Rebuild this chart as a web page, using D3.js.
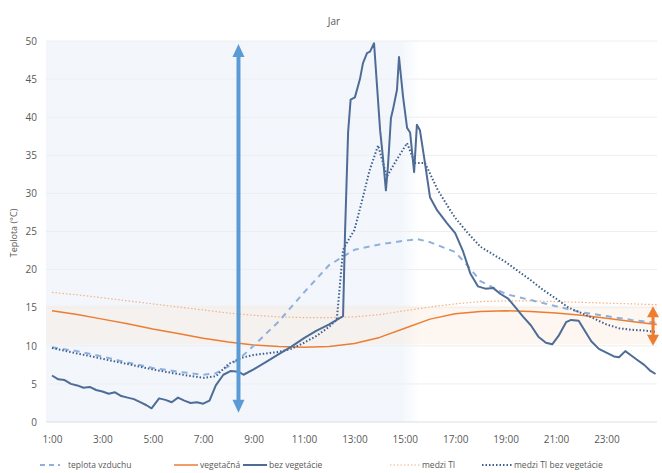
<!DOCTYPE html>
<html>
<head>
<meta charset="utf-8">
<script src="https://cdn.jsdelivr.net/npm/d3@7"></script>
<style>
  body { margin: 0; background: #fff; }
  text { font-family: "Open Sans", sans-serif; fill: #595959; }
</style>
</head>
<body>
<div id="chart"></div>
<script>
// Data (hours as decimals, 25 = 1:00 next day)
var xTicks = [1, 3, 5, 7, 9, 11, 13, 15, 17, 19, 21, 23];
var yTicks = [0, 5, 10, 15, 20, 25, 30, 35, 40, 45, 50];

var airTimes = [1,2,3,4,5,6,7,7.5,8,8.5,9,10,11,12,13,14,15,15.5,16,17,17.5,18,19,20,21,22,23,24,25];
var airVals  = [9.8,9.3,8.6,7.8,7.1,6.6,6.2,6.4,7.3,8.5,10,13.2,17,20.6,22.6,23.3,23.8,24,23.6,22.3,20.5,18.5,16.8,16,15.2,14.4,13.9,13.4,13];

var vegTimes = [1,2,3,4,5,6,7,8,9,10,11,12,13,14,15,16,17,18,19,20,21,22,23,24,25];
var vegVals  = [14.6,14.1,13.5,12.9,12.2,11.6,11,10.5,10.1,9.9,9.8,9.9,10.3,11.1,12.3,13.5,14.2,14.5,14.6,14.5,14.3,14,13.6,13.2,12.8];

var bareTimes = [1,1.25,1.5,1.75,2,2.25,2.5,2.75,3,3.25,3.5,3.75,4,4.25,4.5,4.75,4.95,5.25,5.5,5.75,6,6.25,6.5,6.75,7,7.25,7.5,7.8,8.1,8.4,8.6,9,9.5,10,10.5,11,11.5,12,12.3,12.55,12.63,12.75,12.85,13.02,13.22,13.34,13.5,13.62,13.78,13.9,14.02,14.13,14.25,14.33,14.45,14.53,14.69,14.77,14.93,15.09,15.21,15.37,15.48,15.6,15.8,16,16.28,16.67,17,17.3,17.6,17.9,18.2,18.5,18.8,19.1,19.4,19.7,20,20.3,20.6,20.85,21.1,21.4,21.6,21.9,22.1,22.4,22.7,23,23.3,23.5,23.75,24,24.2,24.5,24.75,24.95];
var bareVals  = [6.1,5.6,5.5,5.0,4.8,4.5,4.6,4.2,4.0,3.7,3.9,3.4,3.2,3.0,2.6,2.2,1.8,3.1,2.9,2.6,3.2,2.8,2.5,2.6,2.4,2.8,4.8,6.2,6.7,6.6,6.2,6.9,7.9,8.9,9.9,11.0,12.0,12.8,13.4,13.9,25,38,42.3,42.6,45,47.1,48.4,48.6,49.7,44,38.3,34.8,30.4,33.5,39.9,41,43.6,47.9,42.7,38.6,38,32.8,39,38.3,34,29.5,27.8,26.1,24.8,22.5,19.5,17.8,17.5,17.6,16.8,16.2,15,13.8,12.7,11.2,10.4,10.2,11.3,13.1,13.4,13.3,12.2,10.6,9.6,9.1,8.6,8.5,9.3,8.7,8.2,7.5,6.7,6.3];

var tiTimes = [1,2,3,4,5,6,7,8,9,10,11,12,13,14,15,16,17,18,19,20,21,22,23,24,25];
var tiVals  = [17,16.7,16.3,15.9,15.5,15.1,14.7,14.3,14,13.8,13.7,13.7,13.8,14.1,14.6,15.1,15.5,15.8,15.9,15.9,15.8,15.7,15.6,15.5,15.4];

var tiBareTimes = [1,2,3,4,5,6,7,7.5,8,8.5,9,10,10.5,11,11.5,12,12.3,12.55,12.75,13,13.3,13.6,13.94,14.29,14.6,15.09,15.4,15.8,16.3,16.8,17,17.5,18,18.5,19,19.5,20,20.5,21,21.5,22,22.5,23,23.5,24,24.5,25];
var tiBareVals  = [9.7,9.0,8.3,7.6,6.9,6.3,5.8,6.0,7.6,8.4,8.8,9.2,9.6,10.4,11.3,12.5,13.4,22.6,23.8,25.2,29,33,36.3,32.2,34,36.6,34,34,30.5,27.8,26.8,24.8,23,22,21,19.8,18.6,17.3,16.2,15,14.3,13.6,12.8,12.3,12.1,12,11.8];

var legendNames = ["teplota vzduchu", "vegetačná", "bez vegetácie", "medzi TI", "medzi TI bez vegetácie"];

// Layout
var W = 662, H = 473;
var pLeft = 46, pRight = 657, pTop = 41, pBottom = 422;

var svg = d3.select("#chart").append("svg")
    .attr("width", W)
    .attr("height", H);

var x = d3.scaleLinear().domain([1, 25]).range([52, 656.8]);
var y = d3.scaleLinear().domain([0, 50]).range([pBottom, pTop]);

var defs = svg.append("defs");
var grad = defs.append("linearGradient").attr("id", "shade")
    .attr("x1", "0").attr("x2", "1").attr("y1", "0").attr("y2", "0");
grad.append("stop").attr("offset", "0%").attr("stop-color", "#eaf1fa").attr("stop-opacity", 0.6);
grad.append("stop").attr("offset", "95%").attr("stop-color", "#eaf1fa").attr("stop-opacity", 0.6);
grad.append("stop").attr("offset", "100%").attr("stop-color", "#eaf1fa").attr("stop-opacity", 0);

// light blue shaded region
svg.append("rect")
    .attr("x", pLeft).attr("y", pTop)
    .attr("width", x(15.6) - pLeft).attr("height", pBottom - pTop)
    .attr("fill", "url(#shade)");

// peach band
svg.append("rect")
    .attr("x", pLeft).attr("y", y(15.3))
    .attr("width", pRight - pLeft).attr("height", y(10.2) - y(15.3))
    .attr("fill", "#fbe3d1").attr("opacity", 0.3);

// gridlines
svg.append("g")
    .selectAll("line")
    .data(yTicks)
    .join("line")
    .attr("x1", pLeft).attr("x2", pRight)
    .attr("y1", d => y(d)).attr("y2", d => y(d))
    .attr("stroke", d => d === 0 ? "#dedede" : "#eeeeee")
    .attr("stroke-width", 1);

// y axis labels
var yAxis = d3.axisLeft(y).tickValues(yTicks).tickSize(0).tickPadding(8);
svg.append("g")
    .attr("transform", "translate(" + (pLeft - 1) + ",0)")
    .call(yAxis)
    .call(g => g.select(".domain").remove())
    .selectAll("text")
    .style("font-size", "10px")
    .attr("fill", "#595959");

// x axis labels
var xAxis = d3.axisBottom(x).tickValues(xTicks).tickSize(0).tickPadding(14)
    .tickFormat(d => d + ":00");
svg.append("g")
    .attr("transform", "translate(0," + pBottom + ")")
    .call(xAxis)
    .call(g => g.select(".domain").remove())
    .selectAll("text")
    .style("font-size", "10px")
    .attr("fill", "#595959");

// title + axis title
svg.append("text")
    .attr("x", 334).attr("y", 25)
    .attr("text-anchor", "middle")
    .style("font-size", "10px")
    .text("Jar");

svg.append("text")
    .attr("transform", "translate(17,233) rotate(-90)")
    .attr("text-anchor", "middle")
    .style("font-size", "9px")
    .text("Teplota (°C)");

// series
var line = d3.line().x(d => x(d[0])).y(d => y(d[1]));
var series = [
  { t: tiTimes, v: tiVals, color: "#f4b183", width: 1.2, dash: "1.5,2" },
  { t: vegTimes, v: vegVals, color: "#ed7d31", width: 1.5, dash: null },
  { t: airTimes, v: airVals, color: "#8fb0dc", width: 2, dash: "6,5" },
  { t: tiBareTimes, v: tiBareVals, color: "#3f5e8e", width: 2, dash: "1.5,2" },
  { t: bareTimes, v: bareVals, color: "#4e6c96", width: 2, dash: null }
];

series.forEach(function(s) {
  svg.append("path")
    .datum(d3.zip(s.t, s.v))
    .attr("d", line)
    .attr("fill", "none")
    .attr("stroke", s.color)
    .attr("stroke-width", s.width)
    .attr("stroke-linejoin", "round")
    .attr("stroke-dasharray", s.dash);
});

// arrows
function arrow(hx, v0, v1, color, w, head, hw) {
  var g = svg.append("g");
  var px = x(hx), y0 = y(v0), y1 = y(v1);
  g.append("line")
    .attr("x1", px).attr("x2", px)
    .attr("y1", y1 + head - 1).attr("y2", y0 - head + 1)
    .attr("stroke", color).attr("stroke-width", w);
  g.append("path")
    .attr("d", "M" + px + "," + y1 + "L" + (px - hw) + "," + (y1 + head) + "L" + (px + hw) + "," + (y1 + head) + "Z")
    .attr("fill", color);
  g.append("path")
    .attr("d", "M" + px + "," + y0 + "L" + (px - hw) + "," + (y0 - head) + "L" + (px + hw) + "," + (y0 - head) + "Z")
    .attr("fill", color);
}
arrow(8.4, 1.2, 49.6, "#5b9bd5", 4, 13, 6);
arrow(24.85, 10.0, 15.2, "#ed7d31", 3, 11, 6);

// legend
var legendItems = [
  { x: 40, len: 20, color: "#8fb0dc", width: 2, dash: "5,4" },
  { x: 174, len: 24, color: "#ed7d31", width: 1.5, dash: null },
  { x: 243, len: 24, color: "#4e6c96", width: 2, dash: null },
  { x: 390, len: 30, color: "#f4b183", width: 1.2, dash: "1.5,2" },
  { x: 482, len: 30, color: "#3f5e8e", width: 2, dash: "1.5,2" }
];
var leg = svg.append("g");
legendItems.forEach(function(d, i) {
  leg.append("line")
    .attr("x1", d.x).attr("x2", d.x + d.len)
    .attr("y1", 465).attr("y2", 465)
    .attr("stroke", d.color).attr("stroke-width", d.width)
    .attr("stroke-dasharray", d.dash);
  leg.append("text")
    .attr("x", d.x + d.len + (i === 0 ? 8 : 2)).attr("y", 468)
    .style("font-size", "8.5px")
    .text(legendNames[i]);
});
</script>
</body>
</html>
